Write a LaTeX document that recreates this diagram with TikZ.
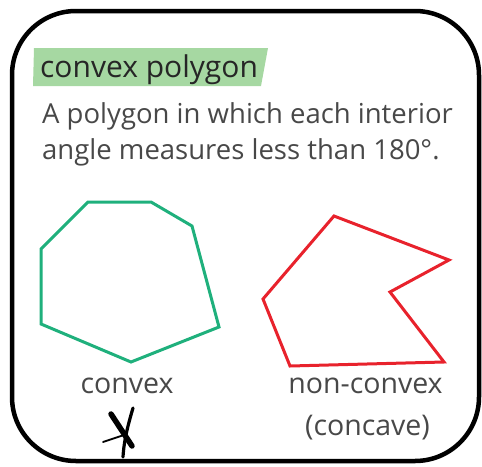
\documentclass[tikz,border=0pt]{standalone}
\usepackage{fontspec}
\setmainfont{Open Sans}
\definecolor{hl}{HTML}{A6D8A2}
\definecolor{titlec}{HTML}{262626}
\definecolor{bodyc}{HTML}{484848}
\definecolor{cvx}{HTML}{1FB07C}
\definecolor{ncv}{HTML}{E8222C}
\tikzset{
  frame/.style={line width=4.5pt, rounded corners=64pt},
  bodytext/.style={anchor=base west, inner sep=0pt, text=bodyc, font=\fontsize{27.5}{30}\selectfont},
  labeltext/.style={anchor=base, inner sep=0pt, text=bodyc, font=\fontsize{28.5}{30}\selectfont},
  poly/.style={line width=3pt, line join=miter},
  pen/.style={black, line cap=round}
}
\begin{document}
\begin{tikzpicture}[x=1pt,y=-1pt]
\useasboundingbox (0,0) rectangle (482,466);
\draw[frame] (12,11) rectangle (479,461);
\fill[hl] (34,48) -- (268,48) -- (261,86) -- (33,86) -- cycle;
\node[anchor=base west, inner sep=0pt, text=titlec, font=\fontsize{30}{32}\selectfont] (title) at (40,77) {convex polygon};
\node[bodytext] (l1) at (42,123) {A polygon in which each interior};
\node[bodytext] (l2) at (42,159) {angle measures less than 180°.};
\draw[poly, cvx] (88,202) -- (151,202) -- (192,226) -- (219,327) -- (131,362) -- (41,324) -- (41,249) -- cycle;
\draw[poly, ncv] (334,216) -- (449,260) -- (390,292) -- (444,362) -- (290,366) -- (263,299) -- cycle;
\node[labeltext] (cx) at (127,393) {convex};
\node[labeltext] (ncx) at (365.5,393) {non-convex};
\node[labeltext] (cc) at (367.5,435) {(concave)};
\draw[pen, line width=5.5pt] (111,414) -- (132,446);
\draw[pen, line width=3.2pt] (133,408) .. controls (128,425) and (124,440) .. (123,457);
\draw[pen, line width=1.8pt] (103,442) -- (124,435);
\end{tikzpicture}
\end{document}
